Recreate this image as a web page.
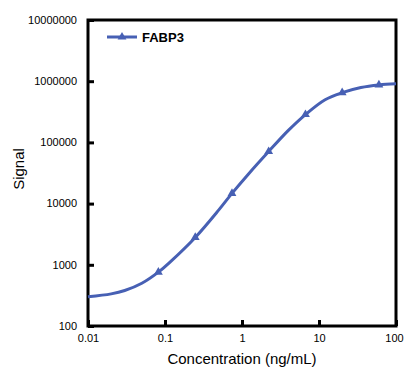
<!DOCTYPE html>
<html>
<head>
<meta charset="utf-8">
<script src="https://cdn.jsdelivr.net/npm/d3@7"></script>
<style>
    body { margin: 0; background: #fff; }
    svg text { font-family: "Liberation Sans", Arial, sans-serif; fill: #000; }
</style>
</head>
<body>
<div id="chart"></div>
<script>
// measured points (triangles)
const concentrations = [0.082, 0.247, 0.741, 2.22, 6.67, 20, 60];
const signals = [760, 2800, 14700, 71000, 285000, 650000, 870000];

// fitted curve
const fitConc = [0.01, 0.02, 0.03, 0.05, 0.082, 0.12, 0.247, 0.5, 0.741, 1.2, 2.22, 4, 6.67, 12, 20, 35, 60, 100];
const fitSignal = [300, 335, 380, 500, 760, 1150, 2800, 7900, 14700, 30000, 71000, 157000, 285000, 498000, 650000, 790000, 870000, 905000];

const xTicks = [0.01, 0.1, 1, 10, 100];
const xTickLabels = ["0.01", "0.1", "1", "10", "100"];
const yTicks = [100, 1000, 10000, 100000, 1000000, 10000000];
const yTickLabels = ["100", "1000", "10000", "100000", "1000000", "10000000"];

const seriesName = "FABP3";
const lineColor = "#4760b4";

const width = 404;
const height = 369;
const margin = { top: 20, right: 8, bottom: 43, left: 88 };

const svg = d3
    .select("#chart")
    .append("svg")
    .attr("width", width)
    .attr("height", height);

const x = d3
    .scaleLog()
    .domain([0.01, 100])
    .range([margin.left, width - margin.right]);

const y = d3
    .scaleLog()
    .domain([100, 10000000])
    .range([height - margin.bottom, margin.top]);

// frame
svg.append("rect")
    .attr("x", x(0.01))
    .attr("y", y(10000000))
    .attr("width", x(100) - x(0.01))
    .attr("height", y(100) - y(10000000))
    .attr("fill", "none")
    .attr("stroke", "#000")
    .attr("stroke-width", 3);

// axes (ticks point inside)
const xAxis = d3
    .axisBottom(x)
    .tickValues(xTicks)
    .tickFormat((d, i) => xTickLabels[i])
    .tickSizeInner(-6)
    .tickSizeOuter(0)
    .tickPadding(10);

const yAxis = d3
    .axisLeft(y)
    .tickValues(yTicks)
    .tickFormat((d, i) => yTickLabels[i])
    .tickSizeInner(-6)
    .tickSizeOuter(0)
    .tickPadding(11);

const gx = svg
    .append("g")
    .attr("transform", `translate(0, ${y(100)})`)
    .call(xAxis);

const gy = svg
    .append("g")
    .attr("transform", `translate(${x(0.01)}, 0)`)
    .call(yAxis);

[gx, gy].forEach((g) => {
    g.select(".domain").remove();
    g.selectAll(".tick line").attr("stroke", "#000").attr("stroke-width", 3);
    g.selectAll(".tick text")
        .style("font-size", "11px")
        .style("font-family", "Liberation Sans, Arial, sans-serif")
        .attr("fill", "#000");
});
gx.selectAll(".tick text").attr("dy", "0.5em");
// keep the last label inside the page
gx.selectAll(".tick text").filter((d) => d === 100).attr("dx", "-2");
gy.selectAll(".tick text").attr("dy", "0.3em");

// axis titles
svg.append("text")
    .attr("x", (x(0.01) + x(100)) / 2)
    .attr("y", 364)
    .attr("text-anchor", "middle")
    .style("font-size", "15px")
    .text("Concentration (ng/mL)");

svg.append("text")
    .attr("transform", `translate(24, ${(y(100) + y(10000000)) / 2 - 4}) rotate(-90)`)
    .attr("text-anchor", "middle")
    .style("font-size", "15px")
    .text("Signal");

// fitted curve
const fitData = fitConc.map((c, i) => [c, fitSignal[i]]);
const line = d3
    .line()
    .x((d) => x(d[0]))
    .y((d) => y(d[1]))
    .curve(d3.curveCatmullRom.alpha(0.5));

svg.append("path")
    .datum(fitData)
    .attr("d", line)
    .attr("fill", "none")
    .attr("stroke", lineColor)
    .attr("stroke-width", 3);

// markers
const triangle = d3.symbol().type(d3.symbolTriangle).size(34);
svg.append("g")
    .selectAll("path")
    .data(concentrations.map((c, i) => [c, signals[i]]))
    .enter()
    .append("path")
    .attr("d", triangle)
    .attr("transform", (d) => `translate(${x(d[0])}, ${y(d[1])})`)
    .attr("fill", lineColor);

// legend
const legend = svg.append("g").attr("transform", "translate(107, 37)");
legend.append("line")
    .attr("x1", 0)
    .attr("x2", 30)
    .attr("stroke", lineColor)
    .attr("stroke-width", 3);
legend.append("path")
    .attr("d", triangle)
    .attr("transform", "translate(15, 0)")
    .attr("fill", lineColor);
legend.append("text")
    .attr("x", 35)
    .attr("dy", "0.36em")
    .style("font-size", "13px")
    .style("font-weight", "bold")
    .text(seriesName);
</script>
</body>
</html>
